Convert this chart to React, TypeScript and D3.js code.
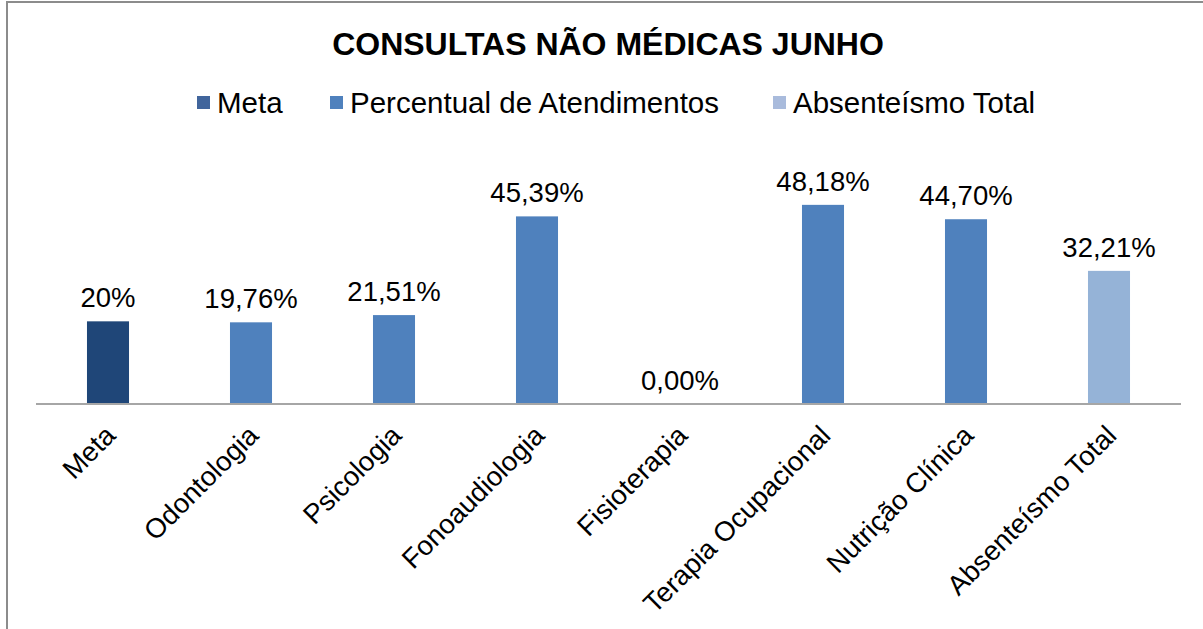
import React from "react";
import * as d3 from "d3";

const categories = ["Meta", "Odontologia", "Psicologia", "Fonoaudiologia", "Fisioterapia", "Terapia Ocupacional", "Nutrição Clínica", "Absenteísmo Total"];
const values = [0.20, 0.1976, 0.2151, 0.4539, 0.0, 0.4818, 0.4470, 0.3221];
const labels = ["20%", "19,76%", "21,51%", "45,39%", "0,00%", "48,18%", "44,70%", "32,21%"];
const seriesOf = ["Meta", "Percentual de Atendimentos", "Percentual de Atendimentos", "Percentual de Atendimentos", "Percentual de Atendimentos", "Percentual de Atendimentos", "Percentual de Atendimentos", "Absenteísmo Total"];
const legendNames = ["Meta", "Percentual de Atendimentos", "Absenteísmo Total"];

const barColor: Record<string, string> = {
  "Meta": "#1F4678",
  "Percentual de Atendimentos": "#4F81BD",
  "Absenteísmo Total": "#95B3D7",
};
const swatchColor: Record<string, string> = {
  "Meta": "#41659C",
  "Percentual de Atendimentos": "#4F81BD",
  "Absenteísmo Total": "#A9BBDC",
};
const legendX = [197, 330, 773];

const W = 1203, H = 629;
const FONT = "'Liberation Sans', Arial, sans-serif";

export default function App() {
  const x = d3.scaleBand<string>().domain(categories).range([36.5, 1180.5]);
  const y = d3.scaleLinear().domain([0, 0.6]).range([404, 156]);
  const bw = x.bandwidth() * 0.294;

  return (
    <svg width={W} height={H} style={{ position: "absolute", left: 0, top: 0, background: "#fff" }} fontFamily={FONT}>
      <rect x={7} y={2} width={W + 20} height={H + 20} fill="#fff" stroke="#8C8C8C" strokeWidth={2} />
      <text x={608} y={55} textAnchor="middle" fontSize={32} fontWeight="bold" fill="#000">CONSULTAS NÃO MÉDICAS JUNHO</text>
      {legendNames.map((n, i) => (
        <g key={n}>
          <rect x={legendX[i]} y={96} width={13} height={13} fill={swatchColor[n]} />
          <text x={legendX[i] + 20} y={113} fontSize={29.5} fill="#000">{n}</text>
        </g>
      ))}
      {categories.map((c, i) => {
        const cx = (x(c) as number) + x.bandwidth() / 2;
        return (
          <g key={c}>
            {values[i] > 0 && (
              <rect x={cx - bw / 2} y={y(values[i])} width={bw} height={y(0) - y(values[i])} fill={barColor[seriesOf[i]]} />
            )}
            <text x={cx} y={y(values[i]) - 14} textAnchor="middle" fontSize={27.5} fill="#000">{labels[i]}</text>
            <text transform={`translate(${cx - 5},${423}) rotate(-45)`} textAnchor="end" fontSize={27.5} fill="#000" dominantBaseline="hanging">{c}</text>
          </g>
        );
      })}
      <line x1={36} x2={1181} y1={404} y2={404} stroke="#A6A6A6" strokeWidth={2} />
    </svg>
  );
}
